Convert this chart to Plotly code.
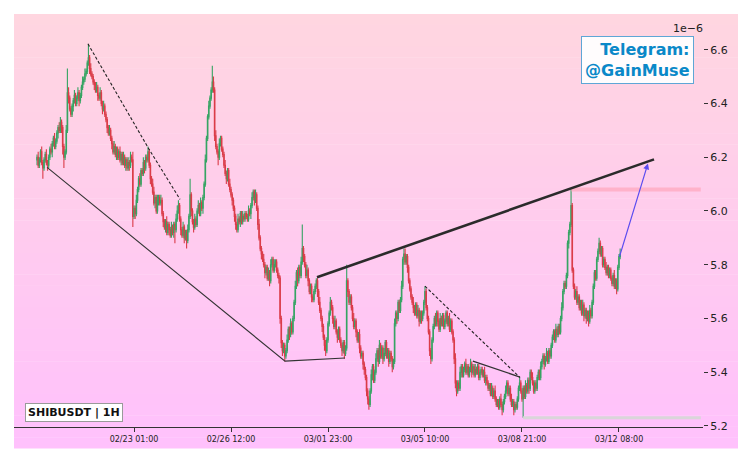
import plotly.graph_objects as go
import pandas as pd

# ---------------- data (prices in units of 1e-6 USDT) ----------------
START = "2026-02-19 14:00"
FIRST_OPEN = 6.19

closes = [
    6.20, 6.17, 6.19, 6.22, 6.18, 6.16, 6.19, 6.21, 6.18, 6.17,
    6.20, 6.23, 6.22, 6.25, 6.27, 6.24, 6.26, 6.29, 6.31, 6.30,
    6.33, 6.31, 6.24, 6.20, 6.22, 6.30, 6.44, 6.42, 6.38, 6.36,
    6.39, 6.41, 6.43, 6.40, 6.42, 6.44, 6.41, 6.43, 6.46, 6.48,
    6.49, 6.51, 6.52, 6.55, 6.57, 6.53, 6.51, 6.50, 6.48, 6.47,
    6.45, 6.46, 6.43, 6.42, 6.44, 6.40, 6.38, 6.39, 6.36, 6.34,
    6.31, 6.29, 6.30, 6.27, 6.25, 6.22, 6.24, 6.21, 6.23, 6.20,
    6.22, 6.19, 6.21, 6.18, 6.20, 6.17, 6.19, 6.16, 6.18, 6.17,
    6.20, 6.19, 5.98, 6.01, 5.99, 6.04, 6.08, 6.12, 6.10, 6.15,
    6.14, 6.18, 6.16, 6.20, 6.19, 6.22, 6.17, 6.12, 6.10, 6.07,
    6.03, 6.05, 6.00, 6.04, 6.05, 6.03, 6.04, 5.99, 5.96, 5.94,
    5.96, 5.92, 5.95, 5.93, 5.91, 5.94, 5.92, 5.95, 5.93, 5.97,
    6.00, 6.02, 5.97, 5.93, 5.91, 5.94, 5.90, 5.92, 5.89, 5.93,
    5.98, 6.06, 6.00, 5.96, 5.94, 5.97, 5.95, 6.00, 6.02, 5.99,
    6.03, 6.01, 6.05, 6.10, 6.19, 6.27, 6.35, 6.39, 6.42, 6.45,
    6.48, 6.45, 6.28, 6.24, 6.22, 6.20, 6.25, 6.27, 6.23, 6.21,
    6.17, 6.14, 6.12, 6.15, 6.10, 6.08, 6.06, 6.04, 6.01, 5.98,
    5.95, 5.93, 5.97, 5.96, 5.99, 5.96, 5.98, 5.97, 5.99, 5.98,
    5.97, 6.00, 5.99, 6.02, 6.05, 6.07, 6.04, 6.06, 6.01, 5.95,
    5.90, 5.86, 5.84, 5.82, 5.80, 5.77, 5.79, 5.75, 5.77, 5.74,
    5.80, 5.82, 5.78, 5.80, 5.81, 5.78, 5.76, 5.75, 5.60, 5.51,
    5.48, 5.50, 5.46, 5.48, 5.52, 5.56, 5.54, 5.58, 5.55, 5.60,
    5.66, 5.72, 5.77, 5.74, 5.79, 5.76, 5.81, 5.86, 5.83, 5.80,
    5.76, 5.78, 5.74, 5.70, 5.72, 5.68, 5.67, 5.70, 5.72, 5.74,
    5.70, 5.66, 5.63, 5.60, 5.57, 5.53, 5.50, 5.48, 5.52, 5.58,
    5.62, 5.66, 5.64, 5.60, 5.57, 5.59, 5.55, 5.53, 5.56, 5.52,
    5.50, 5.48, 5.51, 5.47, 5.49, 5.74, 5.70, 5.66, 5.68, 5.64,
    5.60, 5.57, 5.59, 5.55, 5.52, 5.54, 5.49, 5.46, 5.47, 5.43,
    5.41, 5.38, 5.33, 5.30, 5.28, 5.33, 5.39, 5.42, 5.37, 5.40,
    5.45, 5.48, 5.44, 5.50, 5.46, 5.49, 5.45, 5.47, 5.51, 5.46,
    5.48, 5.44, 5.47, 5.45, 5.42, 5.44, 5.58, 5.62, 5.60, 5.66,
    5.63, 5.67, 5.72, 5.82, 5.84, 5.81, 5.83, 5.79, 5.74, 5.71,
    5.68, 5.66, 5.64, 5.62, 5.65, 5.61, 5.63, 5.59, 5.62, 5.60,
    5.62, 5.66, 5.70, 5.64, 5.60, 5.55, 5.48, 5.45, 5.52, 5.57,
    5.60, 5.58, 5.62, 5.59, 5.56, 5.60, 5.58, 5.61, 5.57, 5.59,
    5.62, 5.58, 5.60, 5.56, 5.59, 5.55, 5.52, 5.45, 5.36, 5.33,
    5.36, 5.34, 5.40, 5.42, 5.39, 5.41, 5.43, 5.40, 5.42, 5.39,
    5.41, 5.43, 5.40, 5.42, 5.39, 5.41, 5.40, 5.42, 5.38, 5.40,
    5.41, 5.39, 5.40, 5.37, 5.38, 5.36, 5.34, 5.35, 5.32, 5.34,
    5.31, 5.33, 5.30, 5.28, 5.29, 5.27, 5.30, 5.28, 5.26, 5.29,
    5.31, 5.33, 5.36, 5.32, 5.34, 5.30, 5.28, 5.29, 5.26, 5.28,
    5.27, 5.30, 5.34, 5.36, 5.33, 5.30, 5.34, 5.31, 5.35, 5.33,
    5.37, 5.34, 5.40, 5.38, 5.36, 5.33, 5.36, 5.34, 5.38, 5.40,
    5.38, 5.42, 5.44, 5.46, 5.43, 5.45, 5.47, 5.44, 5.48, 5.46,
    5.50, 5.53, 5.55, 5.52, 5.56, 5.54, 5.57, 5.55, 5.60, 5.64,
    5.70, 5.73, 5.72, 5.76, 5.88, 5.92, 5.95, 6.02, 5.78, 5.72,
    5.68, 5.70, 5.66, 5.68, 5.64, 5.66, 5.62, 5.65, 5.61, 5.63,
    5.60, 5.62, 5.59, 5.63, 5.61, 5.66, 5.72, 5.77, 5.75, 5.82,
    5.85, 5.88, 5.84, 5.86, 5.80, 5.82, 5.79, 5.77, 5.79, 5.76,
    5.78, 5.75, 5.73, 5.76, 5.72, 5.74, 5.71, 5.79, 5.83, 5.84,
]

# wick lengths above / below the candle body, in hundredths (x0.01e-6)
upper_wick = [
    1,2,1,1,2,1,1,1,2,1, 1,1,2,1,1,2,1,1,1,2, 2,1,1,1,1,2,9,2,1,1, 1,1,2,1,1,2,1,1,1,2,
    1,2,1,1,5,1,2,1,1,1, 1,2,1,1,2,1,1,2,1,1, 1,1,2,1,1,1,2,1,1,1, 1,2,1,1,2,1,1,1,2,1,
    2,1,3,1,1,2,1,1,2,1, 1,2,1,1,1,2,1,1,1,2, 2,1,1,2,1,1,2,1,1,1, 1,2,1,1,1,2,1,1,1,2,
    2,2,1,1,1,2,1,1,1,2, 1,6,1,1,1,2,1,1,2,1, 2,1,1,1,2,1,1,2,1,1, 6,2,1,2,1,1,2,1,1,1,
    1,2,1,1,1,2,1,1,1,1, 1,1,2,1,1,1,2,1,1,1, 1,2,1,1,2,1,1,2,1,1, 2,1,1,1,2,1,1,1,2,1,
    2,1,1,2,1,1,1,1,1,1, 1,1,1,1,2,1,1,2,1,1, 1,2,1,2,1,1,2,9,1,1, 1,2,1,1,1,1,1,1,1,1,
    1,1,2,1,1,1,1,2,1,1, 1,2,1,1,1,2,1,1,1,1, 1,1,1,1,1,6,1,1,1,1, 1,2,1,1,1,1,2,1,1,1,
    1,1,1,1,1,1,2,1,1,1, 2,1,1,2,1,1,1,2,1,1, 1,1,1,1,1,1,2,1,1,1, 1,1,2,1,2,2,1,1,1,1,
    1,1,2,1,1,1,2,1,1,1, 1,1,2,1,1,1,1,1,1,1, 1,2,1,1,1,2,1,1,1,1, 1,1,1,2,1,1,1,1,2,1,
    1,1,2,1,1,1,1,2,1,1, 1,2,1,1,1,2,1,1,1,1, 1,1,1,2,1,1,1,1,1,2, 1,1,2,1,1,1,1,2,1,1,
    1,2,1,1,1,1,2,1,1,1, 1,1,1,2,1,1,1,1,2,1, 1,1,1,1,2,1,1,1,1,1, 1,2,1,1,1,1,2,1,1,1,
    1,1,1,1,2,1,1,1,1,2, 1,1,1,1,1,1,1,6,1,1, 1,1,2,1,1,1,1,2,1,1, 1,1,1,2,1,1,1,1,1,1,
    1,2,1,1,1,1,1,2,1,1, 1,1,1,1,2,1,1,1,1,2,
]
lower_wick = [
    2,1,1,1,1,4,1,1,1,2, 1,1,1,2,1,1,1,1,2,1, 1,2,3,4,1,1,1,2,1,1, 1,2,1,1,1,1,2,1,1,1,
    1,1,1,1,1,2,1,1,1,2, 1,1,2,1,1,1,2,1,1,1, 2,1,1,1,2,1,1,1,2,1, 1,1,2,1,1,1,2,1,1,2,
    1,1,4,1,2,1,1,1,1,1, 1,1,2,1,1,1,1,2,1,1, 1,2,1,1,2,1,1,1,2,1, 2,1,1,2,1,1,1,2,5,1,
    1,1,1,2,1,1,2,1,3,1, 1,1,2,1,2,1,1,1,1,1, 1,1,2,1,1,1,1,1,1,1, 1,1,2,1,1,3,1,1,1,1,
    1,1,2,1,1,1,1,2,1,2, 2,1,1,1,2,1,1,1,1,1, 1,1,1,2,1,1,2,1,1,2, 1,1,2,1,1,2,1,1,1,2,
    1,1,1,1,1,1,1,2,2,2, 2,1,2,1,1,1,2,1,1,1, 1,1,1,2,1,1,1,1,2,1, 1,1,2,1,1,2,1,1,1,1,
    2,1,1,1,2,1,2,2,1,1, 1,1,1,2,1,1,1,2,1,1, 1,2,1,2,1,1,2,1,1,1, 1,1,1,2,1,1,2,1,1,2,
    2,1,2,2,2,1,1,2,1,1, 1,1,2,1,1,1,2,1,1,1, 1,2,1,1,2,1,1,1,2,1, 1,1,1,1,2,1,1,2,1,1,
    1,1,2,1,1,1,1,2,1,2, 1,1,1,1,1,1,2,2,1,1, 1,1,1,2,1,1,1,1,1,1, 1,1,1,1,1,1,1,2,2,2,
    1,1,1,2,1,1,1,1,1,1, 1,1,2,1,1,1,1,1,1,1, 1,1,1,1,2,1,1,1,1,1, 1,1,1,1,1,1,1,1,2,1,
    1,1,1,1,1,1,1,1,2,1, 1,1,1,1,1,1,7,1,1,1, 1,2,1,1,1,1,1,1,1,1, 1,1,1,1,2,1,1,1,1,1,
    1,1,1,1,1,1,1,1,1,1, 1,1,1,1,1,2,1,1,1,1, 1,1,1,1,1,1,1,1,2,1, 2,1,2,1,1,1,1,1,1,1,
    1,1,1,1,1,1,1,1,1,1, 1,1,1,1,1,1,2,1,1,1,
]

tick_dates = ["2026-02-23 01:00", "2026-02-26 12:00", "2026-03-01 23:00",
              "2026-03-05 10:00", "2026-03-08 21:00", "2026-03-12 08:00"]
tick_labels = ["02/23 01:00", "02/26 12:00", "03/01 23:00",
               "03/05 10:00", "03/08 21:00", "03/12 08:00"]
y_ticks = [5.2, 5.4, 5.6, 5.8, 6.0, 6.2, 6.4, 6.6]
y_tick_labels = ["5.2", "5.4", "5.6", "5.8", "6.0", "6.2", "6.4", "6.6"]

# drawn pattern lines (time, price)
wedge_x = ["2026-02-19 22:36", "2026-02-28 10:12", "2026-03-02 13:30"]
wedge_y = [6.162, 5.441, 5.453]
dash1_x = ["2026-02-21 09:36", "2026-02-23 13:00", "2026-02-24 16:24"]
dash1_y = [6.622, 6.236, 6.043]
dash2_x = ["2026-03-05 10:00", "2026-03-08 19:18"]
dash2_y = [5.72, 5.38]
flag_x = ["2026-03-07 03:00", "2026-03-08 19:18"]
flag_y = [5.441, 5.382]
resist_x = ["2026-03-01 13:36", "2026-03-13 14:00"]
resist_y = [5.753, 6.192]
high_level_x = ["2026-03-10 15:00", "2026-03-15 06:00"]
high_level_y = [6.08, 6.08]
low_level_x = ["2026-03-08 21:54", "2026-03-15 06:00"]
low_level_y = [5.23, 5.23]
arrow_from = ("2026-03-12 08:00", 5.824)
arrow_to = ("2026-03-13 08:48", 6.177)

x_range = ["2026-02-18 18:18", "2026-03-15 07:54"]
y_range = [5.196, 6.733]

# ---------------- build OHLC ----------------
times = pd.date_range(START, periods=len(closes), freq="h")
opens = [FIRST_OPEN] + closes[:-1]
highs = [max(o, c) + u / 100 for o, c, u in zip(opens, closes, upper_wick)]
lows = [min(o, c) - l / 100 for o, c, l in zip(opens, closes, lower_wick)]

FONT = "DejaVu Sans"
fig = go.Figure()

# background gradient (pink -> lavender pink)
N = 40
top = (255, 214, 224)
bot = (255, 193, 252)
y0p, y1p = -0.0508, 1.0
for k in range(N):
    t = k / (N - 1)
    col = tuple(round(top[j] + (bot[j] - top[j]) * t) for j in range(3))
    fig.add_shape(type="rect", xref="paper", yref="paper",
                  x0=0, x1=1.0508,
                  y0=y1p - (y1p - y0p) * (k + 1) / N - 0.001,
                  y1=y1p - (y1p - y0p) * k / N,
                  fillcolor="rgb(%d,%d,%d)" % col, line_width=0, layer="below")

# level lines
fig.add_trace(go.Scatter(x=high_level_x, y=high_level_y, mode="lines",
                         line=dict(color="rgba(255,160,180,0.6)", width=4),
                         hoverinfo="skip", showlegend=False))
fig.add_trace(go.Scatter(x=low_level_x, y=low_level_y, mode="lines",
                         line=dict(color="rgba(215,215,215,0.95)", width=3),
                         hoverinfo="skip", showlegend=False))

fig.add_trace(go.Candlestick(
    x=times, open=opens, high=highs, low=lows, close=closes,
    increasing=dict(line=dict(color="#25a158", width=1.1), fillcolor="#25a158"),
    decreasing=dict(line=dict(color="#d8303b", width=1.1), fillcolor="#d8303b"),
    whiskerwidth=0, opacity=0.92, showlegend=False))

fig.add_trace(go.Scatter(x=wedge_x, y=wedge_y, mode="lines",
                         line=dict(color="#333333", width=1.1),
                         hoverinfo="skip", showlegend=False))
fig.add_trace(go.Scatter(x=dash1_x, y=dash1_y, mode="lines",
                         line=dict(color="#222222", width=1.1, dash="3px,2px"),
                         hoverinfo="skip", showlegend=False))
fig.add_trace(go.Scatter(x=dash2_x, y=dash2_y, mode="lines",
                         line=dict(color="#222222", width=1.1, dash="3px,2px"),
                         hoverinfo="skip", showlegend=False))
fig.add_trace(go.Scatter(x=flag_x, y=flag_y, mode="lines",
                         line=dict(color="#333333", width=1.3),
                         hoverinfo="skip", showlegend=False))
fig.add_trace(go.Scatter(x=resist_x, y=resist_y, mode="lines",
                         line=dict(color="#2b2b2b", width=2.6),
                         hoverinfo="skip", showlegend=False))

fig.add_annotation(x=arrow_to[0], y=arrow_to[1], ax=arrow_from[0], ay=arrow_from[1],
                   xref="x", yref="y", axref="x", ayref="y", text="",
                   showarrow=True, arrowhead=2, arrowsize=1, arrowwidth=1.2,
                   arrowcolor="#5b4cf0", standoff=0)

fig.add_annotation(xref="paper", yref="paper", x=0.987, y=0.888,
                   xanchor="right", yanchor="middle", align="right",
                   text="<b>Telegram:</b><br><b>@GainMuse</b>", showarrow=False,
                   font=dict(family=FONT, size=16, color="#0a88c8"),
                   bgcolor="rgba(255,255,255,0.92)", bordercolor="#5fa6d6",
                   borderwidth=1, borderpad=3)
fig.add_annotation(xref="paper", yref="paper", x=0.016, y=0.035,
                   xanchor="left", yanchor="middle",
                   text="<b>SHIBUSDT | 1H</b>", showarrow=False,
                   font=dict(family=FONT, size=11, color="#111"),
                   bgcolor="white", bordercolor="#9a9a9a",
                   borderwidth=1, borderpad=2)
fig.add_annotation(xref="paper", yref="paper", x=0.978, y=0.966,
                   text="1e\u22126", showarrow=False,
                   xanchor="center", yanchor="middle",
                   font=dict(family=FONT, size=11, color="#222"))

# page body has an 8px margin, so the figure is 8px smaller and margins 8px less
fig.update_layout(
    width=744, height=455,
    margin=dict(l=6, r=49, t=6, b=36),
    paper_bgcolor="white", plot_bgcolor="rgba(0,0,0,0)",
    font=dict(family=FONT, color="#222"),
    showlegend=False, hovermode=False,
    xaxis=dict(type="date", range=x_range, tickvals=tick_dates, ticktext=tick_labels,
               ticks="outside", ticklen=4, tickcolor="#333", showgrid=False,
               zeroline=False, showline=True, linecolor="#333", linewidth=1,
               tickfont=dict(family=FONT, size=8, color="#222"),
               rangeslider=dict(visible=False)),
    yaxis=dict(side="right", range=y_range, tickvals=y_ticks, ticktext=y_tick_labels,
               ticks="outside", ticklen=4, tickcolor="#333", showgrid=False,
               zeroline=False, showline=False,
               tickfont=dict(family=FONT, size=11, color="#222")),
)

fig.write_html("out.html")
